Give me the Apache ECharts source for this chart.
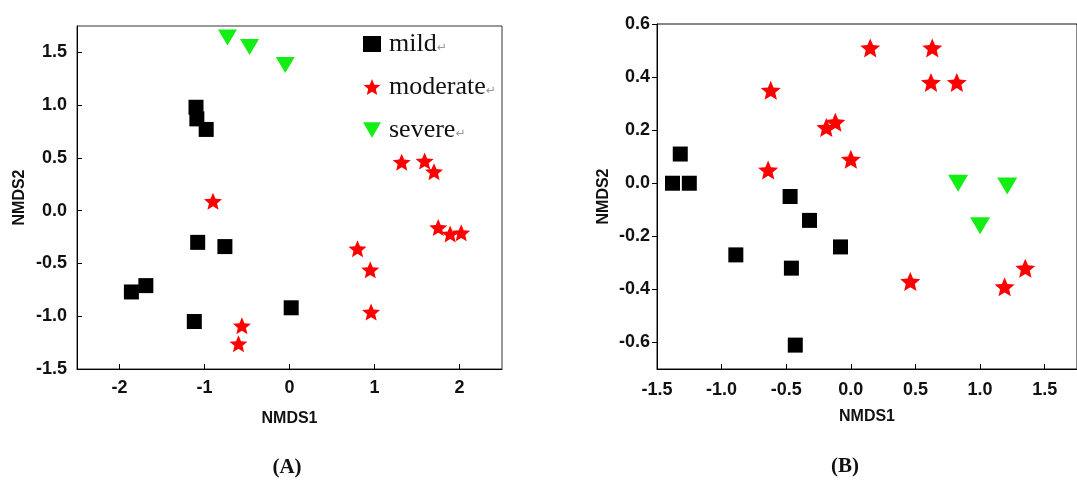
<!DOCTYPE html>
<html lang="en">
<head>
    <meta charset="utf-8">
    <title>NMDS</title>
    <script src="https://cdn.jsdelivr.net/npm/echarts@6/dist/echarts.min.js"></script>
    <style>
        html, body { margin: 0; padding: 0; background: #fff; }
        #main { width: 1077px; height: 488px; }
    </style>
</head>
<body>
<div id="main"></div>
<script type="text/javascript">
    // panel A data [NMDS1, NMDS2]
    var mildA = [[-1.10, 0.98], [-1.09, 0.87], [-0.98, 0.77], [-1.08, -0.30], [-0.76, -0.34],
        [-1.86, -0.77], [-1.69, -0.71], [-1.12, -1.05], [0.02, -0.92]];
    var moderateA = [[1.32, 0.46], [1.59, 0.47], [1.70, 0.37], [-0.90, 0.09], [1.75, -0.16],
        [1.89, -0.22], [2.02, -0.21], [0.80, -0.36], [0.95, -0.56], [0.96, -0.96],
        [-0.56, -1.09], [-0.60, -1.26]];
    var severeA = [[-0.73, 1.64], [-0.47, 1.55], [-0.05, 1.38]];

    // panel B data
    var mildB = [[-1.32, 0.11], [-1.38, 0.00], [-1.25, 0.00], [-0.47, -0.05], [-0.32, -0.14],
        [-0.08, -0.24], [-0.89, -0.27], [-0.46, -0.32], [-0.43, -0.61]];
    var moderateB = [[0.15, 0.51], [0.63, 0.51], [0.62, 0.38], [0.82, 0.38], [-0.62, 0.35],
        [-0.19, 0.21], [-0.12, 0.23], [0.00, 0.09], [-0.64, 0.05], [0.46, -0.37],
        [1.19, -0.39], [1.35, -0.32]];
    var severeB = [[0.83, 0.00], [1.21, -0.01], [1.00, -0.16]];

    // tick labels
    var ticksAx = [-2, -1, 0, 1, 2];
    var ticksAy = [-1.5, -1.0, -0.5, 0.0, 0.5, 1.0, 1.5];
    var ticksBx = [-1.5, -1.0, -0.5, 0.0, 0.5, 1.0, 1.5];
    var ticksBy = [-0.6, -0.4, -0.2, 0.0, 0.2, 0.4, 0.6];

    var starPath = 'path://M100,0L126.45,63.6L195.1,69.1L142.8,113.9L158.8,180.9L100,145L41.2,180.9L57.2,113.9L4.9,69.1L73.55,63.6Z';
    var triPath = 'path://M0,0L20,0L10,17Z';

    var labelFont = {fontFamily: 'Liberation Sans', fontWeight: 'bold', fontSize: 18, color: '#111'};
    var nameFont = {fontFamily: 'Liberation Sans', fontWeight: 'bold', fontSize: 16, color: '#111'};
    var green = '#14ee14';

    function fix1(v) {
        return v.toFixed(1);
    }

    function axis(opt) {
        return {
            type: 'value',
            gridIndex: opt.grid,
            min: opt.min,
            max: opt.max,
            name: 'NMDS' + opt.n,
            nameLocation: 'middle',
            nameGap: opt.gap,
            nameTextStyle: nameFont,
            splitLine: {show: false},
            axisLine: {show: true, onZero: false, lineStyle: {color: '#000', width: 1}},
            axisTick: {show: true, inside: opt.inside, length: 5, customValues: opt.ticks, lineStyle: {color: '#000'}},
            axisLabel: Object.assign({margin: opt.margin, customValues: opt.ticks, formatter: opt.fmt}, labelFont)
        };
    }

    var myChart = echarts.init(document.getElementById('main'));
    option = {
        animation: false,
        backgroundColor: '#fff',
        grid: [
            {left: 77, top: 26, right: 575, bottom: 119, show: true, borderColor: '#333', borderWidth: 1},
            {left: 657, top: 24, right: -5, bottom: 119, show: true, borderColor: '#111', borderWidth: 1}
        ],
        xAxis: [
            axis({grid: 0, min: -2.5, max: 2.5, n: 1, gap: 42, inside: true, margin: 10, ticks: ticksAx, fmt: function (v) { return String(v); }}),
            axis({grid: 1, min: -1.5, max: 1.75, n: 1, gap: 40, inside: true, margin: 12, ticks: ticksBx, fmt: fix1})
        ],
        yAxis: [
            axis({grid: 0, min: -1.5, max: 1.75, n: 2, gap: 49, inside: true, margin: 10, ticks: ticksAy, fmt: fix1}),
            axis({grid: 1, min: -0.7, max: 0.6, n: 2, gap: 45, inside: false, margin: 7, ticks: ticksBy, fmt: fix1})
        ],
        legend: {
            data: ['mild', 'moderate', 'severe'],
            orient: 'vertical',
            left: 358,
            top: 26,
            itemWidth: 18,
            itemHeight: 16,
            itemGap: 17,
            selectedMode: false,
            formatter: '{name}{r|↵}',
            textStyle: {
                fontFamily: 'Liberation Serif',
                fontSize: 26,
                color: '#111',
                padding: [0, 0, 0, 3],
                rich: {
                    r: {fontFamily: 'DejaVu Sans', fontSize: 12, color: '#999', padding: [8, 0, 0, 0]}
                }
            }
        },
        graphic: [
            {type: 'text', x: 287, y: 468, style: {text: '(A)', font: 'bold 21px "Liberation Serif"', fill: '#111', align: 'center', verticalAlign: 'middle'}},
            {type: 'text', x: 845, y: 467, style: {text: '(B)', font: 'bold 21px "Liberation Serif"', fill: '#111', align: 'center', verticalAlign: 'middle'}}
        ],
        series: [
            {name: 'mild', type: 'scatter', xAxisIndex: 0, yAxisIndex: 0, symbol: 'rect', symbolSize: 15, itemStyle: {color: '#000', opacity: 1}, data: mildA},
            {name: 'moderate', type: 'scatter', xAxisIndex: 0, yAxisIndex: 0, symbol: starPath, symbolSize: [18, 17], itemStyle: {color: '#ff0000', opacity: 1}, data: moderateA},
            {name: 'severe', type: 'scatter', xAxisIndex: 0, yAxisIndex: 0, symbol: triPath, symbolSize: [19, 16], itemStyle: {color: green, opacity: 1}, data: severeA},
            {name: 'mild', type: 'scatter', xAxisIndex: 1, yAxisIndex: 1, symbol: 'rect', symbolSize: 15, itemStyle: {color: '#000', opacity: 1}, data: mildB},
            {name: 'moderate', type: 'scatter', xAxisIndex: 1, yAxisIndex: 1, symbol: starPath, symbolSize: [20, 19], itemStyle: {color: '#ff0000', opacity: 1}, data: moderateB},
            {name: 'severe', type: 'scatter', xAxisIndex: 1, yAxisIndex: 1, symbol: triPath, symbolSize: [20, 17], itemStyle: {color: green, opacity: 1}, data: severeB}
        ]
    };

    myChart.setOption(option);
</script>
</body>
</html>
